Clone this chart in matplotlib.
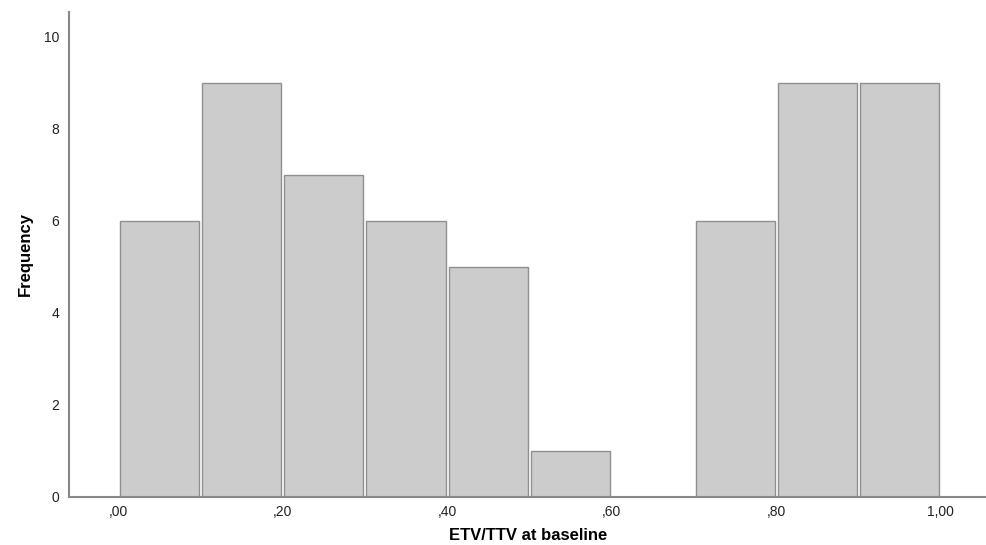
import numpy as np
import matplotlib.pyplot as plt

plt.rcParams['font.family'] = ['Liberation Sans', 'DejaVu Sans']

# bin centres and counts
bin_centers = [0.05, 0.15, 0.25, 0.35, 0.45, 0.55, 0.65, 0.75, 0.85, 0.95]
counts = [6, 9, 7, 6, 5, 1, 0, 6, 9, 9]
xtick_vals = [0.0, 0.2, 0.4, 0.6, 0.8, 1.0]
xtick_labels = [',00', ',20', ',40', ',60', ',80', '1,00']
ytick_vals = [0, 2, 4, 6, 8, 10]

fig = plt.figure(figsize=(9.87, 5.45), dpi=100)
ax = fig.add_axes([0.0699, 0.0881, 0.9301, 0.890])

ax.bar(bin_centers, counts, width=0.0962, align='center',
       color='#cccccc', edgecolor='#8f8f8f', linewidth=1.0)

ax.set_xlim(-0.0595, 1.056)
ax.set_ylim(0, 10.54)

ax.set_xticks(xtick_vals)
ax.set_xticklabels(xtick_labels)
ax.set_yticks(ytick_vals)
ax.tick_params(axis='y', length=0, labelsize=10, colors='#222222', pad=7)
ax.tick_params(axis='x', length=0, labelsize=10, colors='#222222', pad=6)

for side in ['top', 'right']:
    ax.spines[side].set_visible(False)
for side in ['left', 'bottom']:
    ax.spines[side].set_color('#888888')
    ax.spines[side].set_linewidth(1.5)

ax.set_xlabel('ETV/TTV at baseline', fontsize=12, fontweight='bold', labelpad=6)
ax.set_ylabel('Frequency', fontsize=12, fontweight='bold', labelpad=8)

fig.savefig('out.png', dpi=100)
